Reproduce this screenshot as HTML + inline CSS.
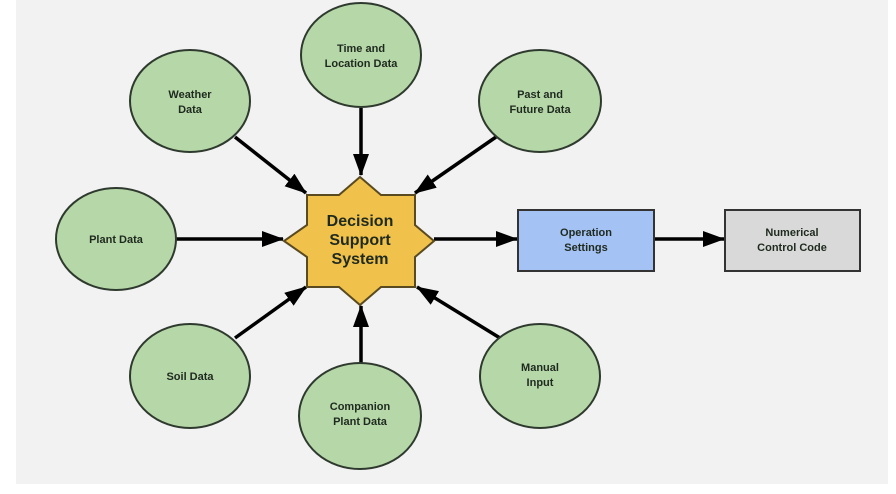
<!DOCTYPE html>
<html><head><style>
html,body{margin:0;padding:0;background:#fff;}
svg{display:block;}
text{font-family:"Liberation Sans",sans-serif;font-weight:bold;fill:#1f2a1f;text-anchor:middle;}
</style></head><body>
<svg width="896" height="494" viewBox="0 0 896 494">
<defs><marker id="a" markerWidth="10" markerHeight="10" refX="9" refY="5" orient="auto" markerUnits="userSpaceOnUse" viewBox="0 0 10 10"><path d="M0,0 L10,5 L0,10 z" fill="#000"/></marker>
<marker id="b" markerWidth="22" markerHeight="16" refX="21" refY="8" orient="auto" markerUnits="userSpaceOnUse" viewBox="0 0 22 16"><path d="M0,0 L22,8 L0,16 z" fill="#000"/></marker></defs>
<rect x="16" y="0" width="872" height="484" fill="#f2f2f2"/>
<g stroke="#000" stroke-width="3.5" marker-end="url(#b)">
<line x1="235" y1="137" x2="306" y2="193"/>
<line x1="361" y1="108" x2="361" y2="175"/>
<line x1="496" y1="137" x2="415" y2="193"/>
<line x1="176" y1="239" x2="283" y2="239"/>
<line x1="235" y1="338" x2="306" y2="287"/>
<line x1="361" y1="363" x2="361" y2="306"/>
<line x1="500" y1="338" x2="417" y2="287"/>
<line x1="434" y1="239" x2="517" y2="239"/>
<line x1="655" y1="239" x2="724" y2="239"/>
</g>
<g fill="#b6d7a8" stroke="#2f3a2f" stroke-width="2">
<ellipse cx="190" cy="101" rx="60" ry="51"/>
<ellipse cx="361" cy="55" rx="60" ry="52"/>
<ellipse cx="540" cy="101" rx="61" ry="51"/>
<ellipse cx="116" cy="239" rx="60" ry="51"/>
<ellipse cx="190" cy="376" rx="60" ry="52"/>
<ellipse cx="360" cy="416" rx="61" ry="53"/>
<ellipse cx="540" cy="376" rx="60" ry="52"/>
</g>
<polygon points="360,177 381,195 415,195 415,225 434,241 415,257 415,287 381,287 360,305 339,287 307,287 307,257 284,241 307,225 307,195 339,195" fill="#f1c24b" stroke="#5a4a20" stroke-width="2"/>
<rect x="518" y="210" width="136" height="61" fill="#a4c2f4" stroke="#333" stroke-width="2"/>
<rect x="725" y="210" width="135" height="61" fill="#d9d9d9" stroke="#333" stroke-width="2"/>
<g font-size="11">
<text x="190" y="98">Weather</text><text x="190" y="113">Data</text>
<text x="361" y="52">Time and</text><text x="361" y="67">Location Data</text>
<text x="540" y="98">Past and</text><text x="540" y="113">Future Data</text>
<text x="116" y="243">Plant Data</text>
<text x="190" y="380">Soil Data</text>
<text x="360" y="410">Companion</text><text x="360" y="425">Plant Data</text>
<text x="540" y="371">Manual</text><text x="540" y="386">Input</text>
<text x="586" y="236">Operation</text><text x="586" y="251">Settings</text>
<text x="792" y="236">Numerical</text><text x="792" y="251">Control Code</text>
</g>
<g font-size="16" style="fill:#3a2e10">
<text x="360" y="226">Decision</text><text x="360" y="245">Support</text><text x="360" y="264">System</text>
</g>
</svg>
</body></html>
